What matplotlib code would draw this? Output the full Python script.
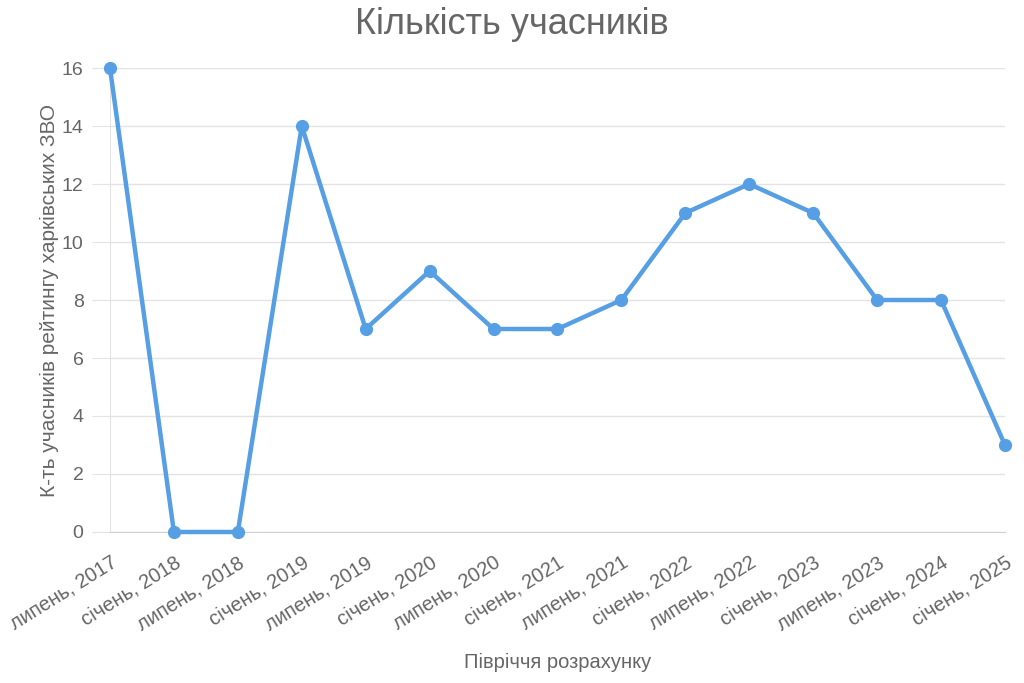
import matplotlib
matplotlib.use("Agg")
import matplotlib.pyplot as plt

plt.rcParams['font.family'] = ['Liberation Sans', 'DejaVu Sans']

categories = ["липень, 2017", "січень, 2018", "липень, 2018", "січень, 2019", "липень, 2019",
              "січень, 2020", "липень, 2020", "січень, 2021", "липень, 2021", "січень, 2022",
              "липень, 2022", "січень, 2023", "липень, 2023", "січень, 2024", "січень, 2025"]
values = [16, 0, 0, 14, 7, 9, 7, 7, 8, 11, 12, 11, 8, 8, 3]
yticks = [0, 2, 4, 6, 8, 10, 12, 14, 16]

color = '#569fe4'
text_color = '#666666'
grid_color = '#e3e3e3'

fig = plt.figure(figsize=(10.24, 6.83), dpi=100)
ax = fig.add_axes([0.1074, 0.2211, 0.874, 0.6793])
x = list(range(len(categories)))
ax.plot(x, values, color=color, lw=3.2, marker='o', markersize=8.5, zorder=3, clip_on=False)
ax.set_xlim(0, len(categories) - 1)
ax.set_ylim(0, 16)
ax.set_yticks(yticks)
ax.set_xticks(x)
ax.set_xticklabels(categories, rotation=32, ha='right', rotation_mode='anchor')
ax.yaxis.grid(True, color=grid_color, lw=1)
ax.xaxis.grid(False)
for k in ['top', 'right']:
    ax.spines[k].set_visible(False)
ax.spines['left'].set_color(grid_color)
ax.spines['bottom'].set_color('#d0d0d0')
ax.tick_params(axis='y', length=13, color=grid_color, labelsize=14, labelcolor=text_color, pad=6)
ax.tick_params(axis='x', length=0, labelsize=14.5, labelcolor=text_color, pad=15)
fig.text(0.5, 0.964, "Кількість учасників", fontsize=26, color=text_color, ha='center', va='center')
ax.set_xlabel("Півріччя розрахунку", fontsize=14.5, color=text_color, labelpad=14)
ax.set_ylabel("К-ть учасників рейтингу харківських ЗВО", fontsize=15, color=text_color, labelpad=2)
fig.savefig("out.png", dpi=100)
